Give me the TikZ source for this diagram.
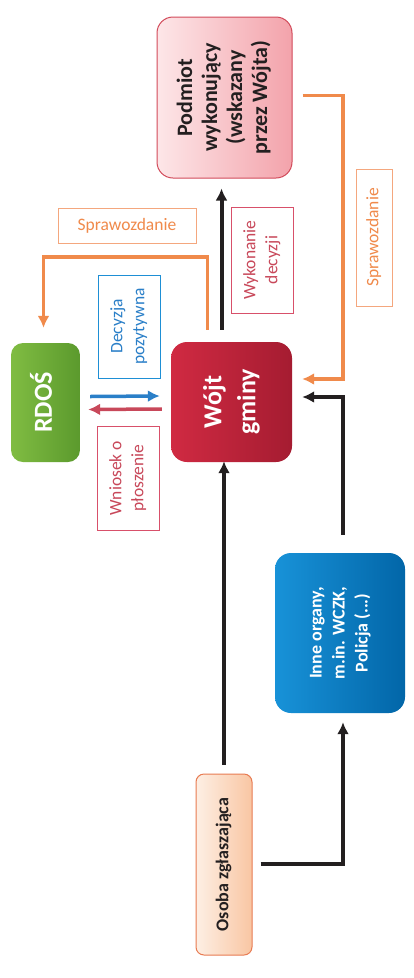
\documentclass[tikz,border=0pt]{standalone}
\usepackage{fontspec}
\setmainfont{Carlito}
\usetikzlibrary{arrows.meta,shapes,calc}

\definecolor{raport}{HTML}{F08A4B}
\definecolor{raportline}{HTML}{F4A77E}
\definecolor{czarny}{HTML}{231F20}
\definecolor{niebieski}{HTML}{2A7FC8}
\definecolor{czerwony}{HTML}{C8485A}
\definecolor{wojtL}{HTML}{D02A42}
\definecolor{wojtR}{HTML}{A51C31}
\definecolor{podmiotL}{HTML}{FDE6E8}
\definecolor{podmiotR}{HTML}{F3A3AB}
\definecolor{podmiotline}{HTML}{D24A5A}
\definecolor{rdosL}{HTML}{80BC42}
\definecolor{rdosR}{HTML}{5B9A2D}
\definecolor{inneL}{HTML}{1892D8}
\definecolor{inneR}{HTML}{0266A8}
\definecolor{osobaL}{HTML}{FDEFE4}
\definecolor{osobaR}{HTML}{F9C6A3}
\definecolor{osobaline}{HTML}{E87B52}
\definecolor{decline}{HTML}{1E8FD5}
\definecolor{wnioline}{HTML}{D8506A}

\newcommand{\vtext}[1]{\rotatebox{90}{\begin{tabular}{@{}c@{}}#1\end{tabular}}}

\begin{document}
\begin{tikzpicture}[x=1pt, y=-1pt, >={Latex[length=12pt,width=12pt]}]
    \tikzstyle{box}=[rectangle, rounded corners=16pt, inner sep=0pt]
    \tikzstyle{note}=[rectangle, draw, line width=0.9pt, inner sep=0pt, font=\fontsize{17.5}{22}\selectfont]
    \tikzstyle{flow}=[->, line width=4pt, draw=czarny]
    \tikzstyle{report}=[->, line width=3.5pt, draw=raport]
    \path[use as bounding box, fill=white] (0,0) rectangle (414,978);

    \node[box, minimum width=135pt, minimum height=161pt, draw=podmiotline, line width=1pt, left color=podmiotL, right color=podmiotR, text=czarny, font=\bfseries\fontsize{22}{25}\selectfont] (podmiot) at (224.5,97.5) {\vtext{Podmiot\\wykonujący\\(wskazany\\przez Wójta)}};
    \node[box, minimum width=121pt, minimum height=120pt, left color=wojtL, right color=wojtR, text=white, font=\bfseries\fontsize{26}{34}\selectfont] (wojt) at (231.5,402) {\vtext{Wójt\\gminy}};
    \node[box, rounded corners=12pt, minimum width=69pt, minimum height=119pt, left color=rdosL, right color=rdosR, text=white, font=\bfseries\fontsize{26}{30}\selectfont] (rdos) at (45.5,402.5) {\vtext{RDOŚ}};
    \node[box, minimum width=130pt, minimum height=160pt, left color=inneL, right color=inneR, text=white, font=\bfseries\fontsize{18}{23}\selectfont] (inne) at (340,633) {\vtext{Inne organy,\\m.in. WCZK,\\Policja (...)}};
    \node[box, rounded corners=8pt, minimum width=56pt, minimum height=181pt, draw=osobaline, line width=1pt, left color=osobaL, right color=osobaR, text=czarny, font=\bfseries\fontsize{18}{22}\selectfont] (osoba) at (224,864.5) {\vtext{Osoba zgłaszająca}};

    \node[note, draw=raportline, text=raport, minimum width=138pt, minimum height=35pt] (sprawA) at (127,225.5) {Sprawozdanie};
    \node[note, draw=raportline, text=raport, minimum width=36pt, minimum height=137pt] (sprawB) at (374,237.5) {\vtext{Sprawozdanie}};
    \node[note, draw=wnioline, text=czerwony, minimum width=62pt, minimum height=106pt] (wykon) at (262,260) {\vtext{Wykonanie\\decyzji}};
    \node[note, draw=decline, text=niebieski, minimum width=62pt, minimum height=103pt] (decyzja) at (129,326.5) {\vtext{Decyzja\\pozytywna}};
    \node[note, draw=wnioline, text=czerwony, minimum width=62pt, minimum height=104pt] (wniosek) at (128,478) {\vtext{Wniosek o\\płoszenie}};

    \draw[flow] ([xshift=-10pt,yshift=12pt]wojt.north) -- ([xshift=-10pt,yshift=-10pt]wojt.north |- podmiot.south);
    \draw[report] ([xshift=10pt,yshift=2pt]podmiot.east) -| ([xshift=51pt,yshift=23pt]wojt.east) -- ([xshift=10pt,yshift=23pt]wojt.east);
    \draw[report] ([xshift=-24pt,yshift=12pt]wojt.north) |- ([xshift=-2pt,yshift=86pt]rdos.north) -- ([xshift=-2pt,yshift=15pt]rdos.north);
    \draw[->, line width=3.5pt, draw=niebieski] ([xshift=10pt,yshift=6pt]rdos.east) -- ([xshift=-11pt,yshift=6pt]wojt.west);
    \draw[->, line width=3.5pt, draw=czerwony] ([xshift=-9pt,yshift=-7pt]wojt.west) -- ([xshift=8pt,yshift=-7pt]rdos.east);
    \draw[flow] ([xshift=3pt,yshift=18pt]inne.north) |- ([xshift=10pt,yshift=5pt]wojt.east);
    \draw[flow, shorten >=8pt] ([yshift=9pt]osoba.north) -- ([yshift=9pt]osoba.north |- wojt.south);
    \draw[flow] ([xshift=8pt,yshift=1pt]osoba.east) -| ([xshift=3pt,yshift=-9pt]inne.south);
\end{tikzpicture}
\end{document}
